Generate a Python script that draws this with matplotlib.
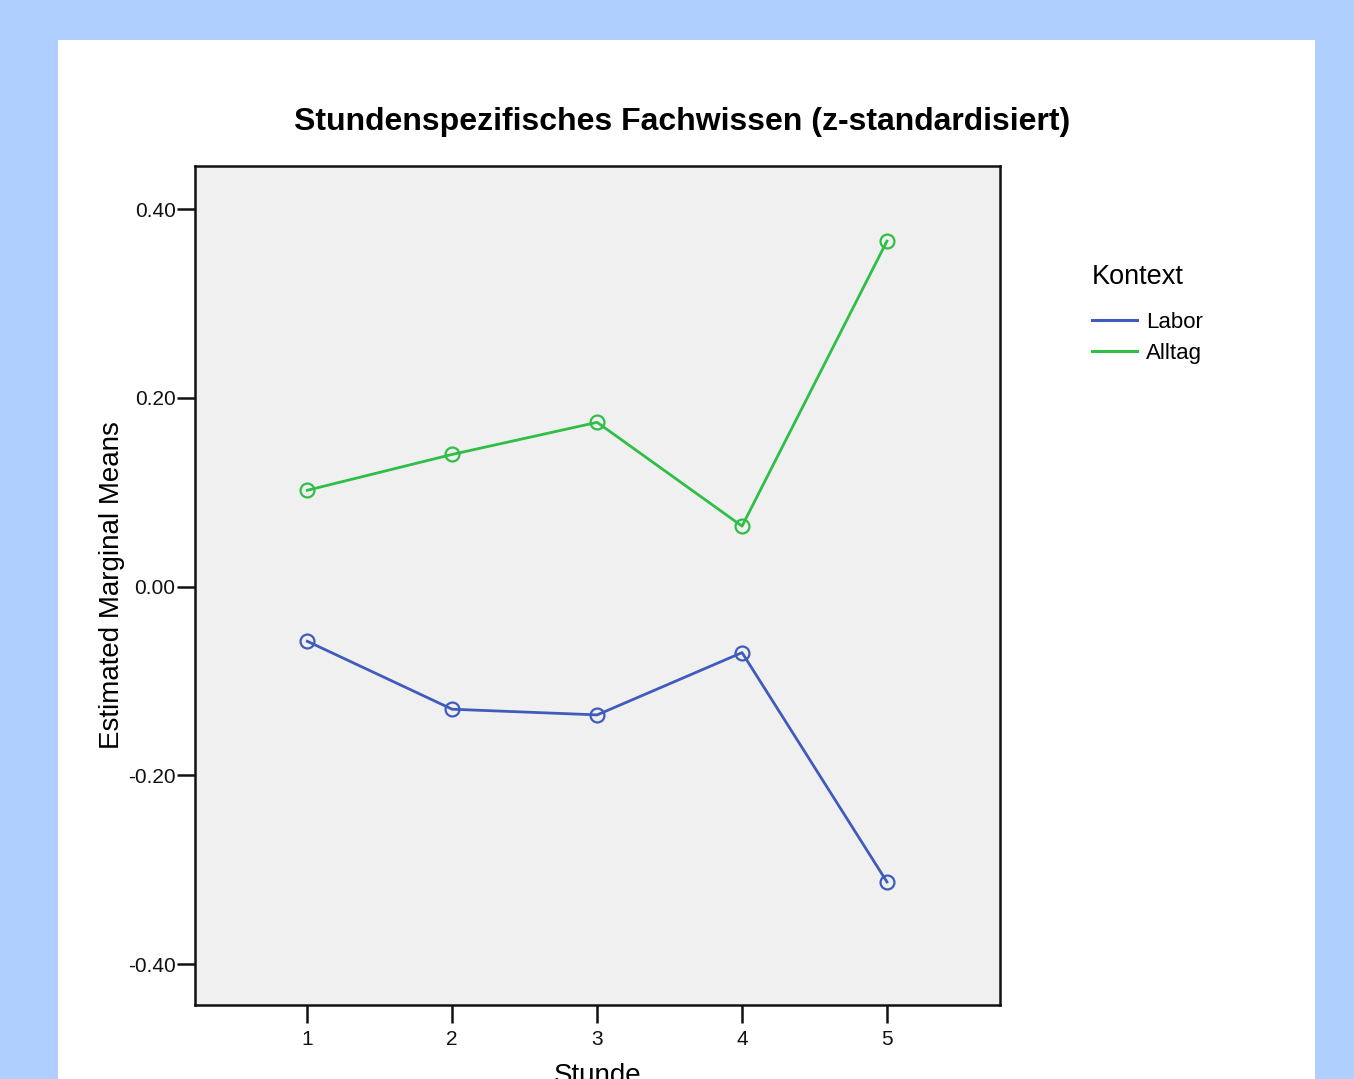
import matplotlib
matplotlib.use("Agg")
import matplotlib.pyplot as plt
from matplotlib.patches import Rectangle

plt.rcParams['font.family'] = ['Liberation Sans', 'DejaVu Sans']

stunde = [1, 2, 3, 4, 5]
labor = [-0.058, -0.130, -0.136, -0.070, -0.313]
alltag = [0.102, 0.140, 0.174, 0.064, 0.366]
yticks = [-0.40, -0.20, 0.00, 0.20, 0.40]
ytick_labels = ["-0.40", "-0.20", "0.00", "0.20", "0.40"]

W, H = 1354, 1079
fig = plt.figure(figsize=(W / 100, H / 100), dpi=100)
fig.patch.set_facecolor('#aecfff')
fig.patches.append(Rectangle((58 / W, 0), (1315 - 58) / W, 1 - 40 / H,
                             transform=fig.transFigure, facecolor='white',
                             edgecolor='none', zorder=-5))

ax = fig.add_axes([195 / W, 1 - 1005 / H, (1000 - 195) / W, (1005 - 166) / H])
ax.set_zorder(2)
ax.set_facecolor('#f0f0f0')

blue = '#3f5cbc'
green = '#2fbe46'
ax.plot(stunde, labor, color=blue, lw=2, marker='o', markersize=10,
        markerfacecolor='none', markeredgewidth=1.6, label='Labor')
ax.plot(stunde, alltag, color=green, lw=2, marker='o', markersize=10,
        markerfacecolor='none', markeredgewidth=1.6, label='Alltag')

ax.set_xlim(0.225, 5.78)
ax.set_ylim(-0.4434, 0.4456)
ax.set_xticks(stunde)
ax.set_xticklabels([str(s) for s in stunde])
ax.set_yticks(yticks)
ax.set_yticklabels(ytick_labels)
ax.tick_params(direction='out', length=13, width=1.8, labelsize=15, colors='#111111')
ax.tick_params(axis='y', pad=1)
ax.tick_params(axis='x', pad=5)
for s in ax.spines.values():
    s.set_linewidth(1.8)
    s.set_color('#111111')

ax.set_ylabel('Estimated Marginal Means', fontsize=20, labelpad=2)
ax.set_xlabel('Stunde', fontsize=20, labelpad=10)

fig.text(682 / W, 1 - 122 / H, 'Stundenspezifisches Fachwissen (z-standardisiert)',
         ha='center', va='center', fontsize=23, fontweight='bold')

leg = ax.legend(loc='upper left', bbox_to_anchor=(1.089, 0.907), frameon=False,
                title='Kontext', fontsize=16, title_fontsize=19.5,
                handlelength=2.05, handletextpad=0.4, labelspacing=0.45)
leg._legend_box.align = 'left'
leg._legend_box.sep = 16
for line in leg.get_lines():
    line.set_marker('')
    line.set_linewidth(2.2)

fig.savefig('out.png', dpi=100, facecolor=fig.get_facecolor())
